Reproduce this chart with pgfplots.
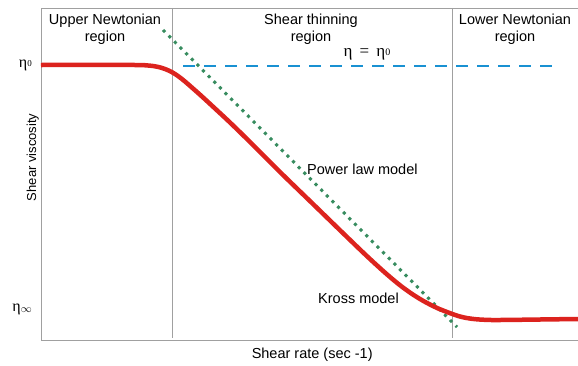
\documentclass[border=0pt]{standalone}
\usepackage{fontspec}
\setmainfont{Liberation Sans}
\newfontfamily\serif{Liberation Serif}
\usepackage{pgfplots}
\pgfplotsset{compat=1.18}
\definecolor{kross}{RGB}{220,35,30}
\definecolor{plaw}{RGB}{55,140,95}
\definecolor{etaz}{RGB}{25,145,210}
\definecolor{frame}{RGB}{160,160,160}
\begin{document}
\begin{tikzpicture}
\begin{axis}[
  at={(0,0)}, anchor=south west,
  scale only axis, width=537pt, height=332pt,
  xmin=41, xmax=578, ymin=25, ymax=357,
  axis lines=none,
  clip=false,
]
% frame lines
\addplot[frame, line width=0.8pt] coordinates {(578,357) (41,357) (41,25) (578,25)};
\addplot[frame, line width=0.8pt] coordinates {(172,357) (172,27)};
\addplot[frame, line width=0.8pt] coordinates {(452,357) (452,27)};
% eta = eta0
\addplot[etaz, line width=2.6pt, dash pattern=on 12pt off 9pt] coordinates {(183,299) (552,299)};
% power law
\addplot[plaw, line width=3pt, dash pattern=on 3pt off 5pt] coordinates {(163,335) (457,38)};
% Kross model
\addplot[kross, line width=4.5pt, smooth, tension=0.6] coordinates {
(41,300) (135,300) (145,299.7) (153,299) (160,297.6) (166,295.6) (172,292.8) (178,289) (185,283.5) (193,276.5) (202,268.5) (215,256.5) (230,242.5) (250,223) (280,193) (313,161) (347,128) (370,106) (390,88) (405,76) (420,66) (435,58) (447,53) (460,48.5) (472,46.2) (485,45.2) (500,45) (540,45.5) (578,46)};
% tick labels
\node[anchor=east, inner sep=0pt, font=\fontsize{16}{18}\selectfont] at (axis cs:32,300) {\serif η\raisebox{0.5pt}{\fontsize{9}{10}\selectfont 0}};
\node[anchor=east, inner sep=0pt, font=\fontsize{16}{18}\selectfont] at (axis cs:32,56) {\serif η\raisebox{-1pt}{\fontsize{11}{11}\selectfont$\infty$}};
% labels
\node[align=center, font=\fontsize{14.5}{17}\selectfont] at (axis cs:105,336) {Upper Newtonian\\region};
\node[align=center, font=\fontsize{14.5}{17}\selectfont] at (axis cs:311,336) {Shear thinning\\region};
\node[align=center, font=\fontsize{14.5}{17}\selectfont] at (axis cs:515,336) {Lower Newtonian\\region};
\node[font=\fontsize{17}{19}\selectfont] at (axis cs:367,311) {\serif η \,=\, η\raisebox{0.5pt}{\fontsize{10}{11}\selectfont 0}};
\node[anchor=west, font=\fontsize{14.5}{17}\selectfont, inner sep=0pt] at (axis cs:307,196) {Power law model};
\node[anchor=west, font=\fontsize{14.5}{17}\selectfont, inner sep=0pt] at (axis cs:318,67) {Kross model};
\node[anchor=south, rotate=90, font=\fontsize{13}{15}\selectfont, inner sep=2pt] at (axis description cs:0,0.55) {Shear viscosity};
\node[anchor=north, font=\fontsize{14.5}{17}\selectfont, inner sep=2pt] at (axis description cs:0.505,-0.018) {Shear rate (sec -1)};
\end{axis}
\pgfresetboundingbox
\path (-41pt,-25pt) rectangle (537pt,340pt);
\end{tikzpicture}
\end{document}
